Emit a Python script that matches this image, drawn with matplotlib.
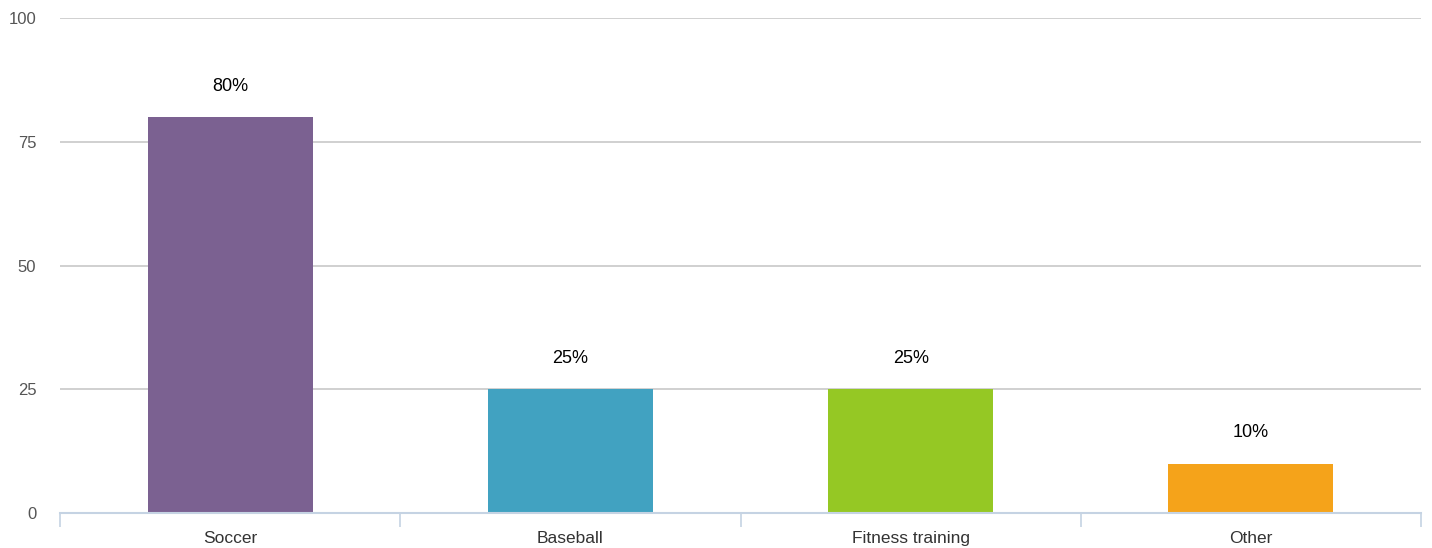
import matplotlib.pyplot as plt

plt.rcParams['font.family'] = ['Liberation Sans', 'DejaVu Sans']

categorias = ['Soccer', 'Baseball', 'Fitness training', 'Other']
valores = [80, 25, 25, 10]
colores = ['#7b6191', '#41a2c1', '#95c824', '#f5a31a']
etiquetas = ['80%', '25%', '25%', '10%']

fig = plt.figure(figsize=(14.32, 5.48), dpi=100)
ax = fig.add_axes([60/1432, 35/548, 1361/1432, 495/548])

x = range(len(categorias))
ax.bar(x, valores, width=0.485, color=colores, zorder=3)
for i in x:
    ax.annotate(etiquetas[i], xy=(i, valores[i]), xytext=(0, 16), textcoords='offset points',
                ha='center', va='bottom', fontsize=13, color='black')

ax.set_xlim(-0.5, 3.5)
ax.set_ylim(0, 100)
ax.set_yticks([0, 25, 50, 75, 100])
ax.yaxis.grid(True, color='#c8c8c8', linewidth=1.2, zorder=0)
ax.tick_params(axis='y', length=0, labelsize=12, labelcolor='#555555', pad=17)

# ticks del eje x entre categorias
ax.set_xticks([-0.5, 0.5, 1.5, 2.5, 3.5])
ax.set_xticklabels([])
ax.set_xticks(list(x), minor=True)
ax.set_xticklabels(categorias, minor=True)
ax.tick_params(axis='x', which='major', length=10, color='#c5d3e3', width=1.2)
ax.tick_params(axis='x', which='minor', length=0, labelsize=12.5, labelcolor='#333333', pad=13)

for s in ['top', 'right', 'left']:
    ax.spines[s].set_visible(False)
ax.spines['bottom'].set_color('#c5d3e3')
ax.spines['bottom'].set_linewidth(1.5)
ax.spines['bottom'].set_zorder(4)

plt.savefig('out.png', dpi=100)
